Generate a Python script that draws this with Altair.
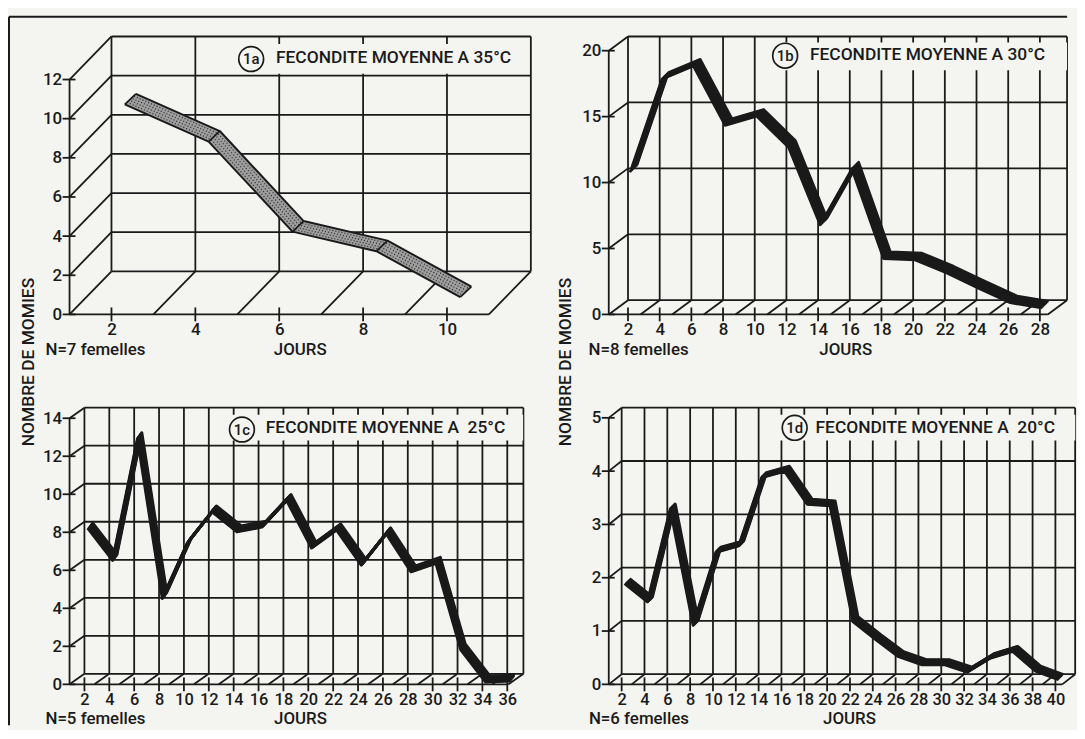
import altair as alt
import numpy as np
import pandas as pd

# ---------------- data ----------------
days_1a = [2, 4, 6, 8, 10]
fec_1a = [9.9, 8.0, 3.4, 2.4, 0.05]

days_1b = [2, 4, 6, 8, 10, 12, 14, 16, 18, 20, 22, 24, 26, 28]
fec_1b = [10.5, 17.55, 18.55, 14.05, 14.75, 12.4, 6.5, 10.75, 3.95, 3.85, 2.85, 1.7, 0.6, 0.2]

days_1c = [2, 4, 6, 8, 10, 12, 14, 16, 18, 20, 22, 24, 26, 28, 30, 32, 34, 36]
fec_1c = [8.1, 6.4, 12.8, 4.4, 7.3, 8.95, 7.9, 8.15, 9.55, 7.05, 8.0, 6.15, 7.8, 5.8, 6.25, 1.7, 0.0, 0.05]

days_1d = [2, 4, 6, 8, 10, 12, 14, 16, 18, 20, 22, 24, 26, 28, 30, 32, 34, 36, 38, 40]
fec_1d = [1.84, 1.5, 3.24, 1.06, 2.43, 2.55, 3.83, 3.95, 3.33, 3.3, 1.13, 0.79, 0.47, 0.32, 0.32, 0.18, 0.44, 0.57, 0.2, 0.04]

xticks_1a = [2, 4, 6, 8, 10]
yticks_1a = [0, 2, 4, 6, 8, 10, 12]
xticks_1b = [2, 4, 6, 8, 10, 12, 14, 16, 18, 20, 22, 24, 26, 28]
yticks_1b = [0, 5, 10, 15, 20]
xticks_1c = [2, 4, 6, 8, 10, 12, 14, 16, 18, 20, 22, 24, 26, 28, 30, 32, 34, 36]
yticks_1c = [0, 2, 4, 6, 8, 10, 12, 14]
xticks_1d = [2, 4, 6, 8, 10, 12, 14, 16, 18, 20, 22, 24, 26, 28, 30, 32, 34, 36, 38, 40]
yticks_1d = [0, 1, 2, 3, 4, 5]

tags = ["1a", "1b", "1c", "1d"]
titles = ["FECONDITE MOYENNE A 35°C", "FECONDITE MOYENNE A 30°C",
          "FECONDITE MOYENNE A\u00a0 25°C", "FECONDITE MOYENNE A\u00a0 20°C"]
n_labels = ["N=7 femelles", "N=8 femelles", "N=5 femelles", "N=6 femelles"]
x_title = "JOURS"
y_title = "NOMBRE DE MOMIES"

# ---------------- style / layout ----------------
INK = "#1a1a1a"
PAPER = "#f4f4f1"
FONT = "Roboto"
FW = 500
GRIDW = 1.8

geo = {
    "1a": dict(xmin=1.0, xr=11.0, ppd=42.25, yt=12, unit=19.72, H=280, fs=17,
               cx=19, hx=5.6, hy=5.3, w=2.5,
               circ=(183, 22.7), text=(208, 22), box=(167.7, 7.5, 457.7, 37.5),
               nlab=(-24.3, 316), jours=(232.4, 316)),
    "1b": dict(xmin=0.785, xr=28.5, ppd=15.96, yt=20, unit=13.285, H=280, fs=17,
               cx=5.5, hx=3.5, hy=3.5, w=2.5,
               circ=(177.7, 19.3), text=(202.7, 19), box=(159.7, 6, 461.7, 34),
               nlab=(-20.3, 316), jours=(238.7, 316)),
    "1c": dict(xmin=0.803, xr=36.1, ppd=12.53, yt=14, unit=19.15, H=278.7, fs=16.5,
               cx=5.5, hx=2.2, hy=3.0, w=3.0,
               circ=(173.7, 22), text=(197.7, 20), box=(155.7, 7, 457, 33),
               nlab=(-24.3, 313.5), jours=(232.7, 313.5)),
    "1d": dict(xmin=0.87, xr=40.6, ppd=11.5, yt=5, unit=53.7, H=278.7, fs=16.5,
               cx=5.5, hx=2.5, hy=2.5, w=3.0,
               circ=(187.3, 20.3), text=(208.3, 20), box=(165, 7, 470, 33),
               nlab=(-20, 313.5), jours=(242.5, 313.5)),
}

one = pd.DataFrame({"k": [0]})


def seg_df(rows):
    return pd.DataFrame(rows, columns=["x", "y", "x2", "y2"])


def txt(text, xp, yp, size=17, align="left", angle=0):
    return alt.Chart(one).mark_text(text=text, font=FONT, fontWeight=FW, fontSize=size,
                                    color=INK, align=align, baseline="middle",
                                    angle=angle).encode(x=alt.value(xp), y=alt.value(yp))


def panel(key, days, vals, xticks, yticks, title, tag, nlabel, extra=None, stipple=False):
    g = geo[key]
    xmin, xr, ppd, yt, unit, H = g["xmin"], g["xr"], g["ppd"], g["yt"], g["unit"], g["H"]
    back = 2 - xmin
    Dy = H - yt * unit
    xmax = xr + back
    ymax = H / unit
    W = (xmax - xmin) * ppd

    xs = alt.Scale(domain=[xmin, xmax], nice=False, zero=False)
    ys = alt.Scale(domain=[0, ymax], nice=False, zero=False)
    xax = alt.Axis(values=xticks, domain=False, ticks=False, grid=False, labelPadding=7,
                   labelFontSize=g["fs"], labelFont=FONT, labelFontWeight=FW, labelColor=INK,
                   labelOverlap=False, labelFlush=False, title=None, format="d")
    yax = alt.Axis(values=yticks, domain=False, ticks=False, grid=False, labelPadding=8,
                   labelFontSize=17, labelFont=FONT, labelFontWeight=FW, labelColor=INK,
                   labelOverlap=False, labelFlush=False, title=None, format="d")

    def X(f):
        return alt.X(f, type="quantitative", scale=xs, axis=xax)

    def Y(f):
        return alt.Y(f, type="quantitative", scale=ys, axis=yax)

    def rules(rows, **offs):
        return alt.Chart(seg_df(rows)).mark_rule(color=INK, strokeWidth=GRIDW, **offs).encode(
            x=X("x"), x2="x2", y=Y("y"), y2="y2")

    layers = []
    # front frame
    layers.append(rules([(xmin, 0, xmin, yt), (xmin, 0, xr, 0)]))
    # back wall (horizontals + verticals)
    back_rows = [(2, v, xmax, v) for v in yticks]
    back_rows += [(t, 0, t, yt) for t in xticks] + [(xmax, 0, xmax, yt)]
    layers.append(rules(back_rows, yOffset=-Dy, y2Offset=-Dy))
    # floor and left-wall diagonals
    diag = [(t - back, 0, t, 0) for t in xticks] + [(xr, 0, xmax, 0)]
    diag += [(xmin, v, 2, v) for v in yticks if v > 0]
    layers.append(rules(diag, y2Offset=-Dy))
    # crossing ticks
    layers.append(rules([(t, 0, t, 0) for t in xticks], yOffset=-7, y2Offset=7))
    layers.append(rules([(xmin, v, xmin, v) for v in yticks], xOffset=-7, x2Offset=6))

    # title box and text
    bx0, by0, bx1, by1 = g["box"]
    layers.append(alt.Chart(one).mark_rect(color=PAPER).encode(
        x=alt.value(bx0), x2=alt.value(bx1), y=alt.value(by0), y2=alt.value(by1)))
    cxp, cyp = g["circ"]
    layers.append(alt.Chart(one).mark_point(shape="circle", size=625, filled=False, color=INK,
                                            strokeWidth=1.7, opacity=1).encode(
        x=alt.value(cxp), y=alt.value(cyp)))
    layers.append(txt(tag, cxp, cyp + 0.5, size=15, align="center"))
    tx, ty = g["text"]
    layers.append(txt(title, tx, ty, size=17.5))
    # bottom labels
    nx, ny = g["nlab"]
    layers.append(txt(nlabel, nx, ny))
    jx, jy = g["jours"]
    layers.append(txt(x_title, jx, jy, align="center"))

    # data ribbon (line drawn in the middle depth plane)
    df = pd.DataFrame({"day": days, "val": vals})
    cx, cy, hx, hy = g["cx"], Dy / 2, g["hx"], g["hy"]

    def ribbon(t, color, width, **kw):
        return alt.Chart(df).mark_line(color=color, strokeWidth=width, strokeJoin="round",
                                       xOffset=cx + t * hx, yOffset=-cy - t * hy, **kw).encode(
            x=X("day"), y=Y("val"))

    if stipple:
        for t in np.linspace(-0.8, 0.8, 9):
            layers.append(ribbon(t, "#9e9e9e", 2.6))
        for i, t in enumerate([-0.6, -0.2, 0.2, 0.6]):
            layers.append(ribbon(t, "#333333", 1.3, strokeDash=[1.1, 2.0],
                                 strokeDashOffset=i * 0.9))
        for t in (-1, 1):
            layers.append(ribbon(t, INK, 2.0))
        layers.append(alt.Chart(df).mark_rule(color=INK, strokeWidth=1.7,
                                              xOffset=cx - hx, yOffset=-cy + hy,
                                              x2Offset=cx + hx, y2Offset=-cy - hy).encode(
            x=X("day"), x2="day", y=Y("val"), y2="val"))
    else:
        for t in np.linspace(-1, 1, 9):
            layers.append(ribbon(t, INK, g["w"]))

    if extra:
        layers += extra
    return alt.layer(*layers).properties(width=W, height=H), W


border = [
    alt.Chart(one).mark_rule(color=INK, strokeWidth=2).encode(
        x=alt.value(-61), y=alt.value(-20), y2=alt.value(694)),
    alt.Chart(one).mark_rule(color=INK, strokeWidth=2).encode(
        x=alt.value(-61), x2=alt.value(1005), y=alt.value(-20)),
]

pa, Wa = panel("1a", days_1a, fec_1a, xticks_1a, yticks_1a, titles[0], tags[0], n_labels[0],
               extra=border + [txt(y_title, -41.3, 328, size=17.5, align="center", angle=270)],
               stipple=True)
pb, Wb = panel("1b", days_1b, fec_1b, xticks_1b, yticks_1b, titles[1], tags[1], n_labels[1],
               extra=[txt(y_title, -42.8, 328, size=17.5, align="center", angle=270)])
pc, Wc = panel("1c", days_1c, fec_1c, xticks_1c, yticks_1c, titles[2], tags[2], n_labels[2])
pd_, Wd = panel("1d", days_1d, fec_1d, xticks_1d, yticks_1d, titles[3], tags[3], n_labels[3])

left_a, left_b = 69.3, 612.3
col_gap = left_b - left_a - Wa

chart = alt.concat(pa, pb, pc, pd_, columns=2, align="none", bounds="flush",
                   spacing={"row": 94, "column": col_gap}).properties(
    padding={"left": 0, "top": 5, "right": 0, "bottom": 0},
    background=PAPER,
).configure_view(stroke=None)

chart.save("out.html", embed_options={"renderer": "svg", "actions": False})
